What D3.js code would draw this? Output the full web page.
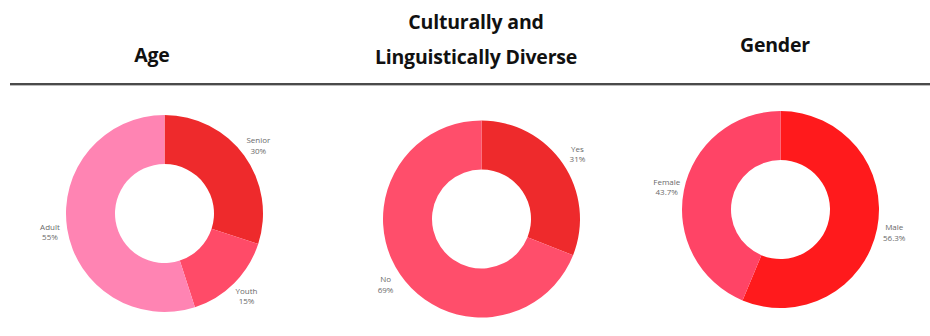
<!DOCTYPE html>
<html>
<head>
<meta charset="utf-8">
<script src="https://cdn.jsdelivr.net/npm/d3@7"></script>
<style>
  body { margin: 0; background: #fff; }
</style>
</head>
<body>
<div id="chart"></div>
<script>
const width = 930;
const height = 336;

// data
const ageLabels = ["Senior", "Youth", "Adult"];
const ageValues = [30, 15, 55];
const ageColors = ["#ee2a2c", "#ff4b68", "#ff84b3"];

const caldLabels = ["Yes", "No"];
const caldValues = [31, 69];
const caldColors = ["#ee2a2c", "#ff4e6b"];

const genderLabels = ["Male", "Female"];
const genderValues = [56.3, 43.7];
const genderColors = ["#ff1a1c", "#ff4466"];

const svg = d3
  .select("#chart")
  .append("svg")
  .attr("width", width)
  .attr("height", height);

// titles
const titleFont = "'Open Sans', 'DejaVu Sans', sans-serif";
const titles = [
  { lines: ["Age"], x: 152, y: [62] },
  { lines: ["Culturally and", "Linguistically Diverse"], x: 476, y: [29, 64] },
  { lines: ["Gender"], x: 775, y: [52] }
];
titles.forEach(t => {
  t.lines.forEach((line, i) => {
    svg
      .append("text")
      .attr("x", t.x)
      .attr("y", t.y[i])
      .attr("text-anchor", "middle")
      .style("font-family", titleFont)
      .style("font-weight", "700")
      .style("font-size", "19.5px")
      .style("letter-spacing", "-0.2px")
      .style("fill", "#111")
      .text(line);
  });
});

// divider
svg
  .append("line")
  .attr("x1", 10)
  .attr("x2", width)
  .attr("y1", 84)
  .attr("y2", 84)
  .style("stroke", "#4a4a4a")
  .style("stroke-width", 2);
svg
  .append("line")
  .attr("x1", 10)
  .attr("x2", width)
  .attr("y1", 85.5)
  .attr("y2", 85.5)
  .style("stroke", "#bbbbbb")
  .style("stroke-width", 1);

const outerR = 98.5;
const innerR = 49.5;
const labelR = 116;

const pie = d3.pie().sort(null).value(d => d.value);
const arc = d3.arc().innerRadius(innerR).outerRadius(outerR);
const labelArc = d3.arc().innerRadius(labelR).outerRadius(labelR);

const drawDonut = (labels, values, colors, cx, cy) => {
  const data = labels.map((l, i) => ({ label: l, value: values[i], color: colors[i] }));
  const g = svg.append("g").attr("transform", `translate(${cx},${cy})`);
  const arcs = pie(data);

  g.selectAll("path")
    .data(arcs)
    .enter()
    .append("path")
    .attr("d", arc)
    .style("fill", d => d.data.color);

  const lbl = g
    .selectAll(".lbl")
    .data(arcs)
    .enter()
    .append("text")
    .attr("class", "lbl")
    .attr("transform", d => `translate(${labelArc.centroid(d)})`)
    .attr("text-anchor", "middle")
    .style("font-family", "'Open Sans', sans-serif")
    .style("font-size", "8px")
    .style("fill", "#6a6a6a");
  lbl.append("tspan").attr("x", 0).attr("dy", "-0.25em").text(d => d.data.label);
  lbl
    .append("tspan")
    .attr("x", 0)
    .attr("dy", "1.3em")
    .text(d => d.data.value + "%");
};

drawDonut(ageLabels, ageValues, ageColors, 164.5, 213.5);
drawDonut(caldLabels, caldValues, caldColors, 481.5, 219);
drawDonut(genderLabels, genderValues, genderColors, 780.5, 209.5);
</script>
</body>
</html>
